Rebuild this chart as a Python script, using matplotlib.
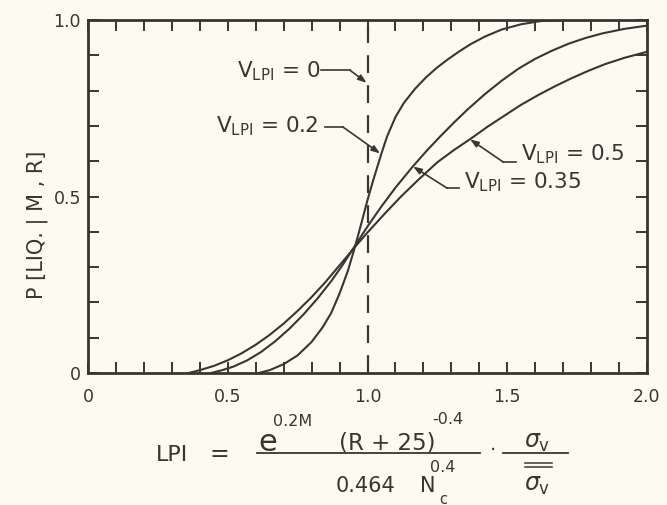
import numpy as np
import matplotlib
matplotlib.use("Agg")
import matplotlib.pyplot as plt
from matplotlib.lines import Line2D

plt.rcParams["font.family"] = ["DejaVu Sans"]
plt.rcParams["mathtext.fontset"] = "dejavusans"

lpi_02 = [0.61, 0.65, 0.70, 0.75, 0.80, 0.84, 0.87, 0.90, 0.93, 0.955, 0.98, 1.00,
          1.02, 1.05, 1.07, 1.10, 1.13, 1.17, 1.21, 1.25, 1.29, 1.33, 1.37, 1.42,
          1.48, 1.55, 1.62, 1.70, 2.00]
p_02 = [0.0, 0.008, 0.025, 0.05, 0.088, 0.13, 0.17, 0.225, 0.29, 0.357, 0.43, 0.49,
        0.545, 0.622, 0.67, 0.725, 0.765, 0.805, 0.838, 0.866, 0.89, 0.912, 0.932, 0.953,
        0.973, 0.988, 0.997, 1.0, 1.0]

lpi_035 = [0.44, 0.48, 0.52, 0.57, 0.62, 0.67, 0.72, 0.77, 0.82, 0.87, 0.91, 0.955,
           1.0, 1.05, 1.10, 1.16, 1.21, 1.26, 1.31, 1.36, 1.42, 1.48, 1.54, 1.60,
           1.66, 1.72, 1.78, 1.84, 1.92, 2.0]
p_035 = [0.0, 0.008, 0.018, 0.036, 0.06, 0.09, 0.125, 0.165, 0.21, 0.26, 0.305, 0.36,
         0.415, 0.472, 0.525, 0.583, 0.628, 0.67, 0.71, 0.748, 0.79, 0.828, 0.862, 0.89,
         0.913, 0.933, 0.949, 0.962, 0.975, 0.984]

lpi_05 = [0.36, 0.40, 0.45, 0.50, 0.55, 0.60, 0.65, 0.70, 0.75, 0.80, 0.85, 0.90,
          0.955, 1.0, 1.06, 1.12, 1.18, 1.25, 1.31, 1.37, 1.43, 1.49, 1.55, 1.61,
          1.67, 1.73, 1.79, 1.85, 1.92, 2.0]
p_05 = [0.0, 0.008, 0.02, 0.036, 0.056, 0.08, 0.108, 0.14, 0.176, 0.215, 0.258, 0.305,
        0.357, 0.398, 0.45, 0.50, 0.546, 0.597, 0.632, 0.664, 0.698, 0.729, 0.76, 0.787,
        0.812, 0.835, 0.856, 0.875, 0.893, 0.91]

x_ticklabels = {0.0: "0", 0.5: "0.5", 1.0: "1.0", 1.5: "1.5", 2.0: "2.0"}
y_ticklabels = {0.0: "0", 0.5: "0.5", 1.0: "1.0"}

ink = "#3a3531"
paper = "#fcfbf1"
W, H = 667, 505

fig = plt.figure(figsize=(W / 100, H / 100), dpi=100, facecolor=paper)
ax = fig.add_axes([88 / W, 1 - 373 / H, (647 - 88) / W, (373 - 20) / H])
ax.set_facecolor(paper)

for xs, ys in [(lpi_02, p_02), (lpi_035, p_035), (lpi_05, p_05)]:
    ax.plot(xs, ys, color=ink, lw=1.5, solid_joinstyle="round", zorder=3)

# V_LPI = 0 : step at LPI = 1
ax.plot([1.0, 1.0], [0.0, 1.0], color=ink, lw=1.6, linestyle=(0, (8, 5.5)), zorder=2)

ax.set_xlim(0, 2.0)
ax.set_ylim(0, 1.0)

xt = np.round(np.arange(0, 2.01, 0.1), 2)
yt = np.round(np.arange(0, 1.01, 0.1), 2)
ax.set_xticks(xt)
ax.set_xticklabels([x_ticklabels.get(v, "") for v in xt])
ax.set_yticks(yt)
ax.set_yticklabels([y_ticklabels.get(v, "") for v in yt])
ax.tick_params(axis="both", direction="in", length=8, width=1.4, color=ink,
               labelcolor=ink, labelsize=12.5, top=True, right=True)
ax.tick_params(axis="x", pad=11)
ax.tick_params(axis="y", pad=5)
for sp in ax.spines.values():
    sp.set_linewidth(2.0)
    sp.set_edgecolor(ink)

# curve labels with leader lines
arrow = dict(arrowstyle="-|>,head_length=0.5,head_width=0.18", color=ink, lw=1.2,
             shrinkA=0, shrinkB=0)
labels = [
    (r"V$_{\mathrm{LPI}}$ = 0", (0.83, 0.836), "right", (0.835, 0.937, 0.858), (0.997, 0.822)),
    (r"V$_{\mathrm{LPI}}$ = 0.2", (0.825, 0.683), "right", (0.848, 0.912, 0.697), (1.045, 0.622)),
    (r"V$_{\mathrm{LPI}}$ = 0.5", (1.55, 0.603), "left", (1.532, 1.485, 0.598), (1.367, 0.662)),
    (r"V$_{\mathrm{LPI}}$ = 0.35", (1.345, 0.524), "left", (1.327, 1.284, 0.524), (1.163, 0.585)),
]
for txt, (tx, ty), ha, (l0, l1, ly), tip in labels:
    ax.text(tx, ty, txt, ha=ha, va="baseline", fontsize=15.5, color=ink)
    ax.plot([l0, l1], [ly, ly], color=ink, lw=1.2)
    ax.annotate("", xy=tip, xytext=(l1, ly), arrowprops=arrow)

# y-axis label
fig.text(37 / W, 1 - 225 / H, "P [LIQ. | M , R]", rotation=90, ha="center",
         va="center", fontsize=15, color=ink)


# formula under the x axis
def ftext(px, py, s, **kw):
    fig.text(px / W, 1 - py / H, s, color=ink, **kw)


def fline(x0, x1, py, lw=1.3):
    fig.add_artist(Line2D([x0 / W, x1 / W], [1 - py / H, 1 - py / H],
                          transform=fig.transFigure, color=ink, lw=lw))


ftext(172, 455, "LPI", ha="center", va="center", fontsize=16)
ftext(219, 454, "=", ha="center", va="center", fontsize=17)
fline(257, 480, 453)
ftext(268, 451, "e", ha="center", va="baseline", fontsize=22)
ftext(273, 422, "0.2M", ha="left", va="center", fontsize=11.5)
ftext(387, 449, "(R + 25)", ha="center", va="baseline", fontsize=16.5)
ftext(432, 420, "-0.4", ha="left", va="center", fontsize=11.5)
ftext(336, 492, "0.464", ha="left", va="baseline", fontsize=15)
ftext(428, 492, "N", ha="center", va="baseline", fontsize=15)
ftext(443, 468, "0.4", ha="center", va="center", fontsize=11.5)
ftext(443, 499, "c", ha="center", va="center", fontsize=10.5)
ftext(493, 450, "·", ha="center", va="center", fontsize=14)
fline(503, 568, 453)
ftext(537, 448, r"$\sigma_\mathrm{v}$", ha="center", va="baseline", fontsize=17)
ftext(537, 491, r"$\sigma_\mathrm{v}$", ha="center", va="baseline", fontsize=17)
fline(525, 552, 463, lw=1.1)
fline(525, 552, 467, lw=1.1)

fig.savefig("out.png", dpi=100, facecolor=paper)
